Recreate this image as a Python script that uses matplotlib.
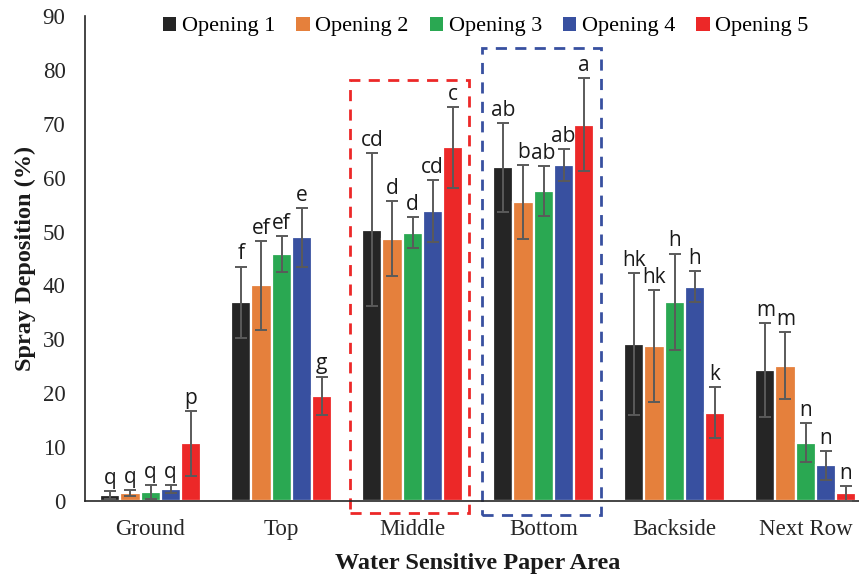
import matplotlib
matplotlib.use("Agg")
import matplotlib.pyplot as plt
from matplotlib.patches import Rectangle
import numpy as np

# Spray deposition (%) by paper position and nozzle opening
areas = ["Ground", "Top", "Middle", "Bottom", "Backside", "Next Row"]
series = ["Opening 1", "Opening 2", "Opening 3", "Opening 4", "Opening 5"]

means = [
    [1.1, 36.9, 50.3, 61.9, 29.1, 24.3],   # Opening 1
    [1.5, 40.0, 48.7, 55.5, 28.8, 25.1],   # Opening 2
    [1.7, 45.8, 49.8, 57.5, 37.0, 10.8],   # Opening 3
    [2.2, 48.9, 53.8, 62.3, 39.8, 6.6],    # Opening 4
    [10.7, 19.5, 65.6, 69.8, 16.4, 1.4],   # Opening 5
]
errors = [
    [0.8, 6.6, 14.2, 8.3, 13.2, 8.7],
    [0.6, 8.3, 7.0, 6.8, 10.4, 6.2],
    [1.3, 3.3, 2.9, 4.6, 8.9, 3.6],
    [0.8, 5.4, 5.7, 3.0, 2.9, 2.7],
    [6.0, 3.6, 7.5, 8.6, 4.8, 1.4],
]
letters = [
    ["q", "f", "cd", "ab", "hk", "m"],
    ["q", "ef", "d", "b", "hk", "m"],
    ["q", "ef", "d", "ab", "h", "n"],
    ["q", "e", "cd", "ab", "h", "n"],
    ["p", "g", "c", "a", "k", "n"],
]

colors = ["#252525", "#e5803c", "#2aa852", "#3850a0", "#ec2828"]

SERIF = "Liberation Serif"
SANS = "Open Sans"

fig = plt.figure(figsize=(8.59, 5.75), dpi=100)
ax = fig.add_axes([0.099, 0.1287, 0.915, 0.8435])

x = np.arange(len(areas))
pitch = 0.153
for i, (name, col) in enumerate(zip(series, colors)):
    xs = x + (i - 2) * pitch
    ax.bar(xs, means[i], width=pitch, color=col, edgecolor="white",
           linewidth=1.6, label=name, zorder=2)
    ax.errorbar(xs, means[i], yerr=errors[i], fmt="none", ecolor="#5a5a5a",
                elinewidth=1.4, capsize=4, capthick=1.4, zorder=3)
    for xi, m, e, t in zip(xs, means[i], errors[i], letters[i]):
        ax.text(xi, m + e + 0.4, t, ha="center", va="bottom",
                fontsize=15, family=SANS, color="#1a1a1a", zorder=4)

# dashed frames around the Middle and Bottom groups
ax.add_patch(Rectangle((1.52, -2.2), 0.91, 80.3, fill=False, edgecolor="#ec2828",
                       linestyle=(0, (4, 3)), linewidth=2, clip_on=False, zorder=1))
ax.add_patch(Rectangle((2.53, -2.6), 0.91, 86.6, fill=False, edgecolor="#3850a0",
                       linestyle=(0, (4, 3)), linewidth=2, clip_on=False, zorder=1))

ax.set_xlim(-0.5, len(areas) - 0.5)
ax.set_ylim(0, 90)
ax.set_yticks(range(0, 91, 10))
ax.set_xticks(x)
ax.set_xticklabels(areas, family=SERIF, fontsize=16.5, color="#262626")
for lab in ax.get_yticklabels():
    lab.set_family(SERIF)
    lab.set_fontsize(16.5)
    lab.set_color("#262626")
ax.tick_params(axis="y", length=0, pad=14)
ax.tick_params(axis="x", length=0, pad=13)

for s in ["top", "right"]:
    ax.spines[s].set_visible(False)
ax.spines["left"].set_color("#262626")
ax.spines["bottom"].set_color("#262626")
ax.spines["left"].set_linewidth(1.2)
ax.spines["bottom"].set_linewidth(1.2)

ax.set_xlabel("Water Sensitive Paper Area", family=SERIF, fontsize=17.5,
              fontweight="bold", color="#1a1a1a", labelpad=9)
ax.set_ylabel("Spray Deposition (%)", family=SERIF, fontsize=17.5,
              fontweight="bold", color="#1a1a1a", labelpad=5)

leg = ax.legend(loc="upper center", bbox_to_anchor=(0.51, 1.04), ncol=5,
                frameon=False, handlelength=0.6, handleheight=0.6,
                handletextpad=0.25, columnspacing=0.95,
                prop={"family": SERIF, "size": 16})
for h in leg.legend_handles:
    h.set_edgecolor("none")

fig.savefig("out.png", dpi=100)
